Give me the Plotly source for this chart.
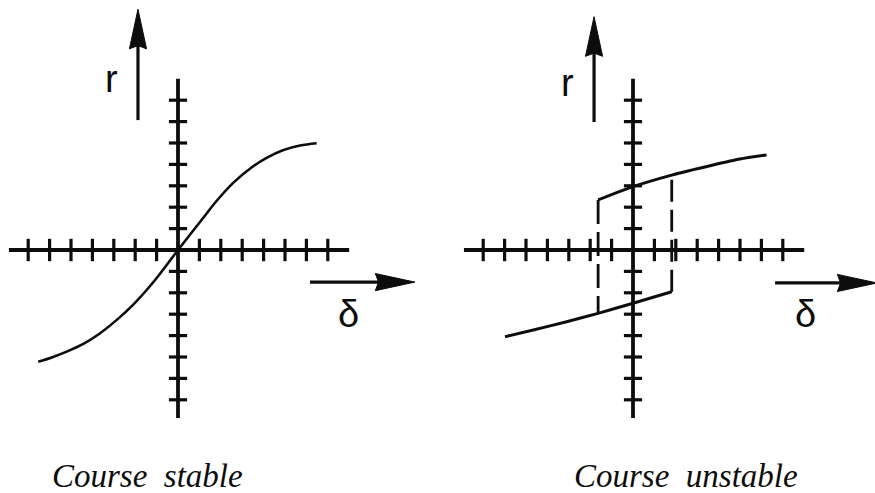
import plotly.graph_objects as go

# ---- data -------------------------------------------------------------
# Course-stable ship: rudder angle delta -> steady turning rate r
stable_delta = [-6.53, -5.9, -5.2, -4.4, -3.64, -2.9, -2.09, -1.07, 0.0,
                1.1, 1.81, 2.59, 3.36, 4.14, 4.9, 5.7, 6.48]
stable_r = [-5.22, -5.02, -4.75, -4.38, -3.89, -3.3, -2.55, -1.40, 0.0,
            1.40, 2.30, 3.15, 3.8, 4.3, 4.66, 4.88, 4.99]

# Course-unstable ship: two branches of the hysteresis loop
upper_delta = [-1.63, 0.0, 1.81, 3.74, 5.0, 6.24]
upper_r = [2.34, 2.96, 3.50, 3.97, 4.25, 4.44]
lower_delta = [-5.98, -4.66, -3.1, -1.63, 0.0, 1.81]
lower_r = [-4.05, -3.74, -3.35, -2.96, -2.49, -1.95]

tick_values = [-7, -6, -5, -4, -3, -2, -1, 1, 2, 3, 4, 5, 6, 7]
captions = ["Course\u00a0 stable", "Course\u00a0 unstable"]

# ---- geometry ----------------------------------------------------------
W, H = 875, 493
PX = 21.4                     # pixels per unit on both axes
ORIGIN_Y = 250                # pixel row of r = 0
SPLIT = 437                   # pixel column dividing the two panels
ORIGINS_X = [178, 633]        # pixel column of delta = 0 in each panel

yr = [-(H - ORIGIN_Y) / PX, ORIGIN_Y / PX]
xr_left = [-ORIGINS_X[0] / PX, (SPLIT - ORIGINS_X[0]) / PX]
xr_right = [-(ORIGINS_X[1] - SPLIT) / PX, (W - ORIGINS_X[1]) / PX]

AX_X = (-7.9, 8.0)
AX_Y = (-7.85, 8.0)

BLACK = "#0d0d0d"
fig = go.Figure()


def draw_axes(xa, ya):
    fig.add_trace(go.Scatter(x=list(AX_X), y=[0, 0], mode="lines",
                             line=dict(color=BLACK, width=3.8),
                             xaxis=xa, yaxis=ya, hoverinfo="skip"))
    fig.add_trace(go.Scatter(x=[0, 0], y=list(AX_Y), mode="lines",
                             line=dict(color=BLACK, width=3.8),
                             xaxis=xa, yaxis=ya, hoverinfo="skip"))
    fig.add_trace(go.Scatter(x=tick_values, y=[0] * len(tick_values),
                             mode="markers",
                             marker=dict(symbol="line-ns", size=16,
                                         line=dict(color=BLACK, width=3.2)),
                             xaxis=xa, yaxis=ya, hoverinfo="skip"))
    fig.add_trace(go.Scatter(x=[0] * len(tick_values), y=tick_values,
                             mode="markers",
                             marker=dict(symbol="line-ew", size=13,
                                         line=dict(color=BLACK, width=3.2)),
                             xaxis=xa, yaxis=ya, hoverinfo="skip"))


def draw_arrow(xa, ya, x0, y0, x1, y1, head_len=1.85, half_w=0.4):
    # shaft plus a filled narrow triangular head ending at (x1, y1)
    dx, dy = x1 - x0, y1 - y0
    n = (dx ** 2 + dy ** 2) ** 0.5
    ux, uy = dx / n, dy / n
    bx, by = x1 - ux * head_len, y1 - uy * head_len
    px, py = -uy * half_w, ux * half_w
    fig.add_trace(go.Scatter(x=[x0, bx + ux * 0.3], y=[y0, by + uy * 0.3],
                             mode="lines", line=dict(color=BLACK, width=3.2),
                             xaxis=xa, yaxis=ya, hoverinfo="skip"))
    fig.add_trace(go.Scatter(x=[x1, bx + px, bx + ux * 0.15, bx - px, x1],
                             y=[y1, by + py, by + uy * 0.15, by - py, y1],
                             mode="lines", fill="toself", fillcolor=BLACK,
                             line=dict(color=BLACK, width=1),
                             xaxis=xa, yaxis=ya, hoverinfo="skip"))


# ---- left panel: course stable -----------------------------------------
draw_axes("x", "y")
fig.add_trace(go.Scatter(x=stable_delta, y=stable_r, mode="lines",
                         line=dict(color=BLACK, width=2.6, shape="spline",
                                   smoothing=1.0),
                         xaxis="x", yaxis="y", hoverinfo="skip"))
draw_arrow("x", "y", -1.87, 6.07, -1.87, 11.25)
draw_arrow("x", "y", 6.17, -1.5, 11.07, -1.5)

# ---- right panel: course unstable --------------------------------------
draw_axes("x2", "y2")
fig.add_trace(go.Scatter(x=upper_delta, y=upper_r, mode="lines",
                         line=dict(color=BLACK, width=3, shape="spline",
                                   smoothing=0.6),
                         xaxis="x2", yaxis="y2", hoverinfo="skip"))
fig.add_trace(go.Scatter(x=lower_delta, y=lower_r, mode="lines",
                         line=dict(color=BLACK, width=3, shape="spline",
                                   smoothing=0.6),
                         xaxis="x2", yaxis="y2", hoverinfo="skip"))
# jumps between the branches
fig.add_trace(go.Scatter(x=[upper_delta[0], upper_delta[0]],
                         y=[upper_r[0], lower_r[3]], mode="lines",
                         line=dict(color=BLACK, width=2.8, dash="24px,8px"),
                         xaxis="x2", yaxis="y2", hoverinfo="skip"))
fig.add_trace(go.Scatter(x=[lower_delta[-1], lower_delta[-1]],
                         y=[lower_r[-1], upper_r[2]], mode="lines",
                         line=dict(color=BLACK, width=2.8, dash="22px,8px"),
                         xaxis="x2", yaxis="y2", hoverinfo="skip"))
draw_arrow("x2", "y2", -1.82, 5.98, -1.82, 10.9)
draw_arrow("x2", "y2", 6.64, -1.54, 11.4, -1.54)

# ---- symbols and captions ----------------------------------------------
sym_font = dict(family="Liberation Sans, Arial, sans-serif", size=38,
                color=BLACK)
for xa, ya, rx, ry, dx, dy in [("x", "y", -3.13, 8.0, 7.95, -3.0),
                               ("x2", "y2", -3.04, 7.8, 8.05, -3.0)]:
    fig.add_annotation(x=rx, y=ry, xref=xa, yref=ya, text="r",
                       showarrow=False, font=sym_font)
    fig.add_annotation(x=dx, y=dy, xref=xa, yref=ya, text="δ",
                       showarrow=False, font=sym_font)

cap_font = dict(family="Liberation Serif, Times New Roman, serif", size=33,
                color=BLACK)
for cx, text in zip([147.5, 686], captions):
    fig.add_annotation(x=cx / W, y=1 - 476 / H, xref="paper", yref="paper",
                       text="<i>" + text + "</i>", showarrow=False,
                       font=cap_font, xanchor="center", yanchor="middle")

hidden = dict(visible=False, showgrid=False, zeroline=False, fixedrange=True)
fig.update_layout(
    width=W, height=H,
    margin=dict(l=0, r=0, t=0, b=0),
    paper_bgcolor="white", plot_bgcolor="white",
    showlegend=False,
    xaxis=dict(domain=[0, SPLIT / W], range=xr_left, **hidden),
    yaxis=dict(domain=[0, 1], range=yr, **hidden),
    xaxis2=dict(domain=[SPLIT / W, 1], range=xr_right, anchor="y2", **hidden),
    yaxis2=dict(domain=[0, 1], range=yr, anchor="x2", **hidden),
)

fig.write_html("out.html")
